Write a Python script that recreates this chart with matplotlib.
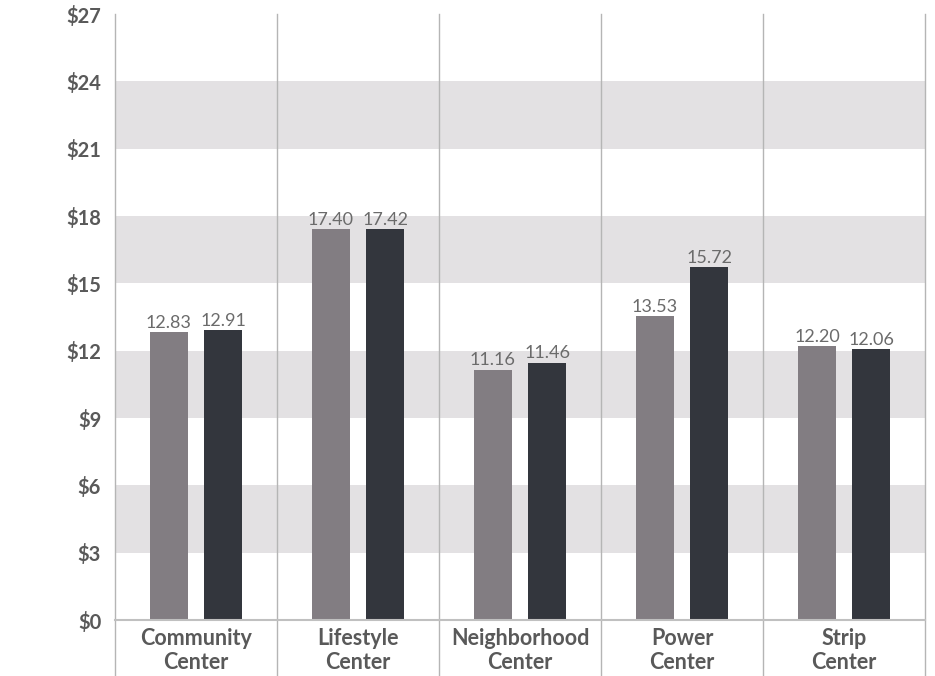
import matplotlib
matplotlib.use("Agg")
import matplotlib.pyplot as plt
import numpy as np

categories = ["Community\nCenter", "Lifestyle\nCenter", "Neighborhood\nCenter", "Power\nCenter", "Strip\nCenter"]
series_a = [12.83, 17.40, 11.16, 13.53, 12.20]
series_b = [12.91, 17.42, 11.46, 15.72, 12.06]
yticks = [0, 3, 6, 9, 12, 15, 18, 21, 24, 27]
ytick_labels = ["$0", "$3", "$6", "$9", "$12", "$15", "$18", "$21", "$24", "$27"]
bands = [(3, 6), (9, 12), (15, 18), (21, 24)]

plt.rcParams['font.family'] = ['Lato', 'DejaVu Sans']

fig = plt.figure(figsize=(9.35, 6.76), dpi=100)
ax = fig.add_axes([115/935, 1 - 620/676, 810/935, 606/676])

n = len(categories)
x = np.arange(n)
w = 0.235
off = 0.167

for lo, hi in bands:
    ax.axhspan(lo, hi, color="#e3e1e3", zorder=0, lw=0)

ba = ax.bar(x - off, series_a, width=w, color="#827d82", zorder=2)
bb = ax.bar(x + off, series_b, width=w, color="#33363d", zorder=2)

for rects, vals in ((ba, series_a), (bb, series_b)):
    for r, v in zip(rects, vals):
        ax.annotate(f"{v:.2f}", (r.get_x() + r.get_width() / 2, v),
                    xytext=(0, 1), textcoords="offset points",
                    ha="center", va="bottom", fontsize=13, color="#6b6b6b", zorder=3)

for xs in np.arange(n + 1) - 0.5:
    ax.axvline(xs, ymin=-0.093, ymax=1, color="#b5b5b5", lw=1, clip_on=False, zorder=1)

ax.set_xlim(-0.5, n - 0.5)
ax.set_ylim(0, 27)
ax.set_yticks(yticks)
ax.set_yticklabels(ytick_labels, fontsize=14.5, fontweight="bold", color="#595959")
ax.set_xticks(x)
ax.set_xticklabels(categories, fontsize=15.5, fontweight="bold", color="#595959", linespacing=1.15)
ax.tick_params(axis="both", length=0)
ax.tick_params(axis="y", pad=10)
ax.tick_params(axis="x", pad=6)

for s in ["top", "right", "left"]:
    ax.spines[s].set_visible(False)
ax.spines["bottom"].set_color("#c0c0c0")
ax.spines["bottom"].set_linewidth(1.5)

fig.savefig("out.png", dpi=100)
